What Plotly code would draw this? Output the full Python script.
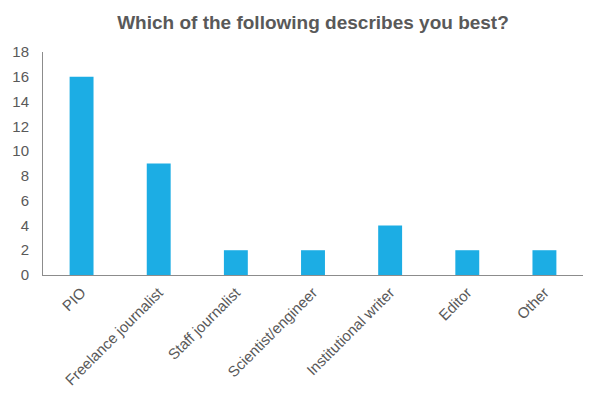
import plotly.graph_objects as go

categories = ["PIO", "Freelance journalist", "Staff journalist", "Scientist/engineer",
              "Institutional writer", "Editor", "Other"]
values = [16, 9, 2, 2, 4, 2, 2]
y_ticks = [0, 2, 4, 6, 8, 10, 12, 14, 16, 18]

fig = go.Figure(go.Bar(x=categories, y=values, marker_color="#1CADE4",
                       marker_line_width=0, width=0.31))
fig.update_layout(
    width=602, height=399,
    margin=dict(l=43, r=19, t=52, b=124),
    paper_bgcolor="white", plot_bgcolor="white",
    font=dict(family="Liberation Sans, Arial", color="#595959"),
    title=dict(text="<b>Which of the following describes you best?</b>",
               xref="paper", x=0.5, xanchor="center", y=0.945, yanchor="middle",
               font=dict(size=19, color="#595959")),
    showlegend=False,
)
fig.update_yaxes(range=[0, 18], tickvals=y_ticks, showgrid=False, zeroline=False,
                 showline=True, linecolor="#8c8c8c", linewidth=1,
                 tickfont=dict(size=15, color="#595959"), ticklabelstandoff=10)
fig.update_xaxes(showgrid=False, showline=True, linecolor="#8c8c8c", linewidth=1,
                 tickangle=-45, tickfont=dict(size=15, color="#595959"),
                 ticklabelstandoff=2)
fig.write_html("out.html")
